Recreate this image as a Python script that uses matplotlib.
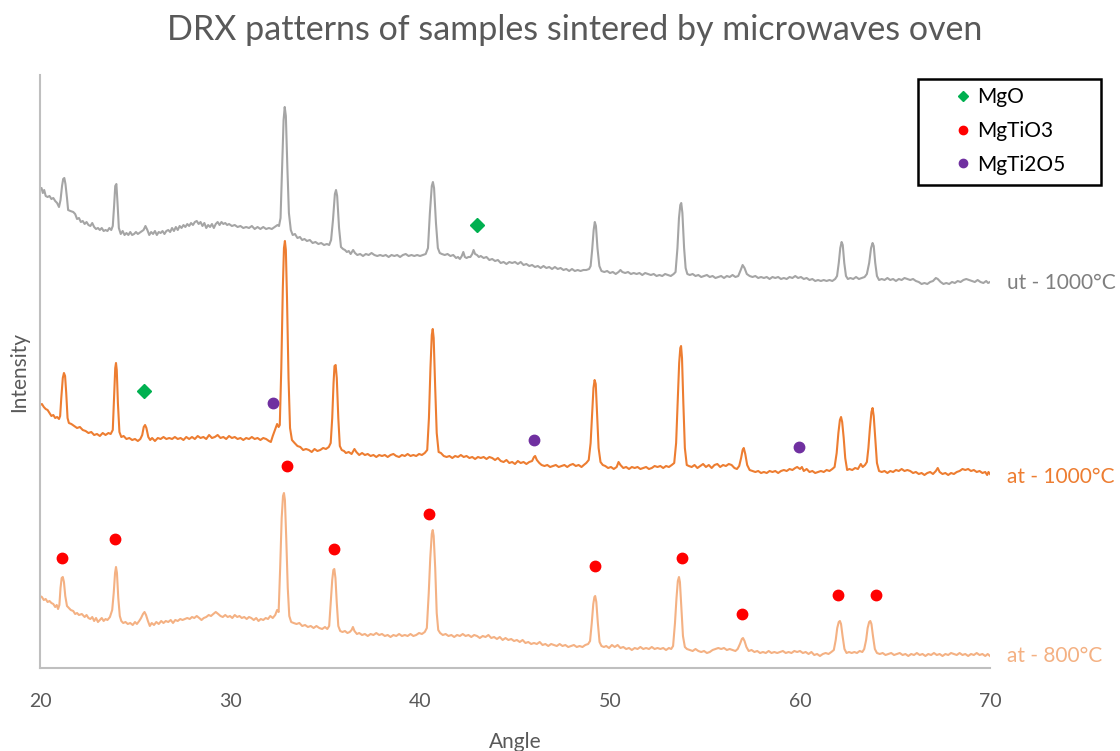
import matplotlib
matplotlib.use("Agg")
import matplotlib.pyplot as plt
from matplotlib.patches import Rectangle

plt.rcParams['font.family'] = ['Lato', 'DejaVu Sans']

# ---- data: (angle in degrees, intensity in offset units) ----
ut1000 = [
    (20.00, 478), (20.08, 480), (20.15, 475), (20.22, 478), (20.30, 472), (20.40, 471), (20.50, 472),
    (20.60, 469), (20.70, 470), (20.80, 467), (20.90, 465), (21.00, 461),
    (21.08, 468), (21.16, 482), (21.22, 489), (21.28, 490), (21.34, 484), (21.42, 470), (21.48, 458),
    (21.60, 457), (21.75, 456), (21.85, 454), (21.95, 449), (22.05, 450), (22.15, 446), (22.25, 447),
    (22.35, 444), (22.45, 446), (22.55, 443), (22.65, 442), (22.75, 445), (22.85, 441), (22.95, 439),
    (23.05, 440), (23.15, 438), (23.25, 440), (23.35, 437), (23.45, 438), (23.55, 437), (23.65, 440),
    (23.75, 438), (23.83, 442),
    (23.90, 462), (23.96, 482), (24.02, 484), (24.08, 465), (24.15, 440), (24.25, 434),
    (24.35, 437), (24.45, 433), (24.55, 435), (24.65, 433), (24.75, 436), (24.85, 433), (24.95, 434),
    (25.05, 436), (25.15, 434), (25.30, 436), (25.45, 438), (25.55, 442), (25.65, 438), (25.75, 433),
    (25.85, 436), (25.95, 434), (26.05, 437), (26.15, 433), (26.25, 436), (26.35, 435), (26.45, 437),
    (26.55, 434), (26.65, 437), (26.75, 438), (26.85, 436), (26.95, 440), (27.05, 437), (27.15, 441),
    (27.25, 438), (27.35, 442), (27.45, 440), (27.55, 443), (27.65, 441), (27.75, 444), (27.85, 442),
    (27.95, 445), (28.05, 443), (28.15, 446), (28.25, 447), (28.35, 444), (28.45, 446), (28.55, 442),
    (28.65, 445), (28.75, 440), (28.85, 443), (28.95, 441), (29.05, 444), (29.15, 440), (29.25, 444),
    (29.35, 446), (29.45, 443), (29.55, 446), (29.65, 444), (29.75, 445), (29.85, 443), (29.95, 444),
    (30.10, 442), (30.25, 443), (30.40, 441), (30.55, 442), (30.70, 440), (30.85, 441), (31.00, 440),
    (31.15, 442), (31.30, 439), (31.45, 441), (31.60, 439), (31.75, 441), (31.90, 439), (32.05, 440),
    (32.20, 439), (32.35, 441), (32.50, 443), (32.58, 442),
    (32.66, 450), (32.74, 500), (32.82, 548), (32.88, 561), (32.94, 552), (33.02, 500), (33.10, 455),
    (33.20, 438), (33.30, 433),
    (33.42, 434), (33.55, 430), (33.68, 431), (33.80, 428), (33.92, 429), (34.05, 427), (34.20, 428),
    (34.35, 425), (34.50, 426), (34.65, 424), (34.80, 425), (34.95, 423), (35.10, 424), (35.22, 423),
    (35.32, 428),
    (35.42, 448), (35.52, 474), (35.58, 478), (35.64, 472), (35.74, 440), (35.84, 421),
    (35.95, 419), (36.05, 418), (36.15, 416), (36.25, 417), (36.35, 414), (36.48, 418), (36.58, 415),
    (36.70, 413), (36.85, 414), (37.00, 412), (37.15, 414), (37.30, 413), (37.45, 415), (37.60, 413),
    (37.75, 412), (37.90, 413), (38.05, 412), (38.20, 413), (38.35, 411), (38.50, 413), (38.65, 412),
    (38.80, 413), (38.95, 411), (39.10, 413), (39.25, 414), (39.40, 412), (39.55, 413), (39.70, 412),
    (39.85, 413), (40.00, 412), (40.15, 413), (40.30, 414),
    (40.42, 420), (40.52, 455), (40.62, 482), (40.68, 486), (40.74, 480), (40.84, 445), (40.94, 420),
    (41.04, 415),
    (41.15, 414), (41.30, 413), (41.45, 414), (41.60, 412), (41.75, 413), (41.90, 410), (42.00, 411),
    (42.10, 409), (42.20, 412), (42.28, 416), (42.36, 411), (42.45, 410), (42.55, 411), (42.65, 411),
    (42.75, 414), (42.82, 418), (42.90, 414), (43.00, 413), (43.10, 411), (43.20, 412), (43.35, 410),
    (43.50, 411), (43.65, 408), (43.80, 409), (43.95, 407), (44.10, 408), (44.25, 405), (44.40, 406),
    (44.55, 404), (44.70, 406), (44.85, 405), (45.00, 406), (45.15, 404), (45.30, 406), (45.45, 403),
    (45.60, 404), (45.75, 402), (45.90, 403), (46.05, 401), (46.20, 402), (46.35, 400), (46.50, 402),
    (46.65, 400), (46.80, 401), (46.95, 399), (47.10, 401), (47.25, 399), (47.40, 400), (47.55, 398),
    (47.70, 399), (47.85, 397), (48.00, 399), (48.15, 397), (48.30, 398), (48.45, 397), (48.60, 398),
    (48.75, 398), (48.90, 399), (48.98, 402),
    (49.06, 418), (49.14, 438), (49.20, 446), (49.26, 442), (49.34, 420), (49.44, 402), (49.55, 397),
    (49.70, 396), (49.85, 397), (50.00, 395), (50.15, 396), (50.30, 394), (50.45, 396), (50.55, 398),
    (50.65, 396), (50.80, 395), (50.95, 396), (51.10, 394), (51.25, 395), (51.40, 394), (51.55, 395),
    (51.70, 393), (51.85, 395), (52.00, 394), (52.15, 393), (52.30, 394), (52.45, 392), (52.60, 393),
    (52.75, 392), (52.90, 394), (53.05, 393), (53.20, 392), (53.35, 394), (53.45, 396),
    (53.55, 420), (53.63, 450), (53.70, 463), (53.75, 465), (53.81, 455), (53.90, 420), (53.98, 400),
    (54.07, 394),
    (54.20, 393), (54.35, 394), (54.50, 392), (54.65, 393), (54.80, 391), (54.95, 392), (55.10, 393),
    (55.25, 391), (55.40, 392), (55.55, 390), (55.70, 391), (55.85, 392), (56.00, 390), (56.15, 392),
    (56.30, 391), (56.45, 393), (56.60, 391), (56.75, 392),
    (56.88, 398), (56.98, 403), (57.08, 400), (57.20, 394), (57.35, 392),
    (57.50, 391), (57.65, 392), (57.80, 390), (57.95, 391), (58.10, 390), (58.25, 391), (58.40, 389),
    (58.55, 391), (58.70, 390), (58.85, 391), (59.00, 389), (59.15, 390), (59.30, 389), (59.45, 391),
    (59.60, 390), (59.75, 392), (59.90, 390), (60.05, 391), (60.20, 389), (60.35, 390), (60.50, 388),
    (60.65, 389), (60.80, 387), (60.95, 388), (61.10, 387), (61.25, 388), (61.40, 387), (61.55, 388),
    (61.70, 387), (61.85, 389), (61.95, 392),
    (62.04, 405), (62.12, 420), (62.19, 426), (62.25, 423), (62.33, 405), (62.42, 392), (62.52, 389),
    (62.65, 390), (62.80, 389), (62.95, 391), (63.10, 389), (63.25, 390), (63.40, 391), (63.52, 394),
    (63.64, 405), (63.74, 420), (63.82, 425), (63.88, 422), (63.96, 405), (64.05, 392), (64.16, 388),
    (64.30, 389), (64.45, 388), (64.60, 390), (64.75, 388), (64.90, 389), (65.05, 387), (65.20, 389),
    (65.35, 388), (65.50, 390), (65.65, 389), (65.80, 388), (65.95, 389), (66.10, 387), (66.25, 386),
    (66.40, 384), (66.55, 385), (66.70, 384), (66.85, 386), (67.00, 387), (67.15, 390), (67.25, 389),
    (67.40, 386), (67.55, 384), (67.70, 385), (67.85, 384), (68.00, 386), (68.15, 385), (68.30, 387),
    (68.45, 386), (68.60, 388), (68.75, 389), (68.90, 388), (69.05, 387), (69.20, 386), (69.35, 388),
    (69.50, 386), (69.65, 385), (69.80, 387), (69.90, 385), (70.00, 386),
]

at1000 = [
    (20.00, 263), (20.10, 264), (20.20, 261), (20.30, 259), (20.40, 258), (20.50, 255), (20.60, 252),
    (20.70, 253), (20.80, 250), (20.90, 251), (21.00, 249), (21.06, 252),
    (21.12, 270), (21.20, 290), (21.26, 295), (21.32, 292), (21.38, 275), (21.45, 250), (21.52, 245),
    (21.65, 244), (21.80, 242), (21.95, 240), (22.10, 241), (22.25, 238), (22.40, 237), (22.55, 235),
    (22.70, 236), (22.85, 233), (23.00, 234), (23.15, 232), (23.30, 235), (23.45, 233), (23.60, 235),
    (23.72, 234), (23.83, 238),
    (23.90, 270), (23.96, 300), (24.00, 305), (24.04, 298), (24.10, 265), (24.18, 236), (24.28, 231),
    (24.40, 232), (24.55, 229), (24.70, 230), (24.85, 228), (25.00, 229), (25.15, 227), (25.28, 229),
    (25.38, 233), (25.46, 241), (25.53, 243), (25.60, 240), (25.70, 231), (25.80, 228),
    (25.90, 230), (26.05, 227), (26.20, 230), (26.35, 229), (26.50, 231), (26.65, 229), (26.80, 230),
    (26.95, 229), (27.10, 231), (27.25, 229), (27.40, 230), (27.55, 228), (27.70, 231), (27.85, 229),
    (28.00, 231), (28.15, 229), (28.30, 232), (28.45, 230), (28.60, 231), (28.75, 229), (28.90, 233),
    (29.05, 230), (29.20, 231), (29.35, 233), (29.50, 230), (29.65, 231), (29.80, 229), (29.95, 232),
    (30.10, 230), (30.25, 231), (30.40, 229), (30.55, 230), (30.70, 228), (30.85, 230), (31.00, 229),
    (31.15, 231), (31.30, 229), (31.45, 230), (31.60, 228), (31.75, 230), (31.90, 229), (32.05, 227),
    (32.15, 226), (32.25, 232), (32.40, 240), (32.48, 244), (32.56, 241), (32.62, 243),
    (32.70, 300), (32.78, 380), (32.84, 420), (32.89, 427), (32.94, 418), (33.00, 370), (33.08, 290),
    (33.16, 240), (33.26, 228),
    (33.40, 225), (33.55, 222), (33.70, 221), (33.85, 218), (34.00, 219), (34.15, 218), (34.30, 216),
    (34.45, 219), (34.60, 217), (34.75, 218), (34.90, 220), (35.05, 219), (35.20, 221), (35.30, 225),
    (35.38, 250), (35.45, 285), (35.50, 302), (35.56, 303), (35.62, 290), (35.70, 250), (35.78, 222),
    (35.88, 218),
    (36.00, 217), (36.10, 215), (36.25, 216), (36.40, 214), (36.55, 219), (36.65, 216), (36.80, 213),
    (36.95, 215), (37.10, 213), (37.25, 214), (37.40, 212), (37.55, 213), (37.70, 211), (37.85, 213),
    (38.00, 212), (38.15, 213), (38.30, 211), (38.45, 213), (38.60, 214), (38.75, 212), (38.90, 211),
    (39.05, 213), (39.20, 212), (39.35, 214), (39.50, 212), (39.65, 213), (39.80, 212), (39.95, 214),
    (40.10, 213), (40.25, 215), (40.38, 218),
    (40.47, 250), (40.55, 300), (40.62, 333), (40.67, 339), (40.72, 330), (40.80, 280), (40.88, 235),
    (40.98, 216),
    (41.10, 215), (41.25, 212), (41.40, 211), (41.55, 212), (41.70, 210), (41.85, 212), (42.00, 211),
    (42.15, 213), (42.30, 211), (42.45, 212), (42.60, 210), (42.75, 211), (42.90, 209), (43.05, 211),
    (43.20, 210), (43.35, 211), (43.50, 209), (43.65, 211), (43.80, 210), (43.95, 208), (44.10, 210),
    (44.25, 207), (44.40, 206), (44.55, 208), (44.70, 205), (44.85, 206), (45.00, 204), (45.15, 207),
    (45.30, 205), (45.45, 206), (45.60, 204), (45.75, 206), (45.90, 207),
    (46.00, 211), (46.06, 212), (46.15, 208), (46.28, 205), (46.40, 203),
    (46.55, 202), (46.70, 203), (46.85, 201), (47.00, 202), (47.15, 203), (47.30, 201), (47.45, 202),
    (47.60, 203), (47.75, 201), (47.90, 203), (48.05, 204), (48.20, 202), (48.35, 203), (48.50, 201),
    (48.62, 203), (48.75, 205), (48.88, 208),
    (48.98, 225), (49.06, 255), (49.13, 280), (49.19, 288), (49.25, 284), (49.32, 255), (49.40, 220),
    (49.50, 206),
    (49.62, 203), (49.75, 202), (49.90, 200), (50.05, 201), (50.20, 199), (50.35, 201), (50.45, 206),
    (50.55, 203), (50.70, 200), (50.85, 201), (51.00, 199), (51.15, 201), (51.30, 200), (51.45, 201),
    (51.60, 199), (51.75, 200), (51.90, 201), (52.05, 199), (52.20, 200), (52.35, 202), (52.50, 201),
    (52.65, 202), (52.80, 200), (52.95, 202), (53.10, 201), (53.25, 203), (53.38, 205),
    (53.48, 225), (53.56, 265), (53.64, 305), (53.70, 320), (53.74, 322), (53.79, 310), (53.86, 265),
    (53.94, 220), (54.04, 203),
    (54.15, 202), (54.30, 201), (54.45, 203), (54.60, 200), (54.75, 202), (54.90, 204), (55.05, 201),
    (55.20, 203), (55.35, 200), (55.50, 203), (55.65, 204), (55.80, 201), (55.95, 203), (56.10, 202),
    (56.25, 204), (56.40, 203), (56.55, 200), (56.68, 199), (56.80, 202),
    (56.90, 210), (56.98, 218), (57.04, 220), (57.12, 214), (57.22, 203), (57.35, 198),
    (57.50, 197), (57.65, 196), (57.80, 197), (57.95, 195), (58.10, 196), (58.25, 195), (58.40, 197),
    (58.55, 196), (58.70, 197), (58.85, 195), (59.00, 197), (59.15, 198), (59.30, 197), (59.45, 199),
    (59.60, 198), (59.75, 200), (59.85, 201), (60.00, 199), (60.10, 201), (60.20, 197), (60.35, 199),
    (60.50, 196), (60.65, 197), (60.80, 195), (60.95, 196), (61.10, 197), (61.25, 196), (61.40, 198),
    (61.55, 197), (61.70, 199), (61.82, 201),
    (61.93, 215), (62.02, 235), (62.10, 248), (62.16, 251), (62.22, 246), (62.30, 230), (62.38, 210),
    (62.48, 198),
    (62.60, 199), (62.75, 198), (62.90, 200), (63.05, 199), (63.20, 204), (63.30, 201), (63.42, 203),
    (63.52, 206),
    (63.60, 220), (63.68, 240), (63.76, 256), (63.82, 260), (63.88, 252), (63.96, 230), (64.05, 205),
    (64.16, 197),
    (64.30, 196), (64.45, 197), (64.60, 195), (64.75, 197), (64.90, 196), (65.05, 198), (65.20, 197),
    (65.35, 199), (65.50, 197), (65.65, 198), (65.80, 197), (65.95, 195), (66.10, 196), (66.25, 194),
    (66.40, 195), (66.55, 193), (66.70, 195), (66.85, 196), (67.00, 194), (67.15, 197), (67.25, 200),
    (67.35, 196), (67.50, 194), (67.65, 195), (67.80, 193), (67.95, 195), (68.10, 194), (68.25, 196),
    (68.40, 197), (68.55, 199), (68.70, 198), (68.85, 199), (69.00, 197), (69.15, 198), (69.30, 196),
    (69.45, 197), (69.60, 195), (69.75, 196), (69.85, 193), (69.92, 196), (70.00, 194),
]

at800 = [
    (20.00, 72), (20.10, 71), (20.20, 68), (20.30, 69), (20.40, 66), (20.50, 67), (20.60, 65),
    (20.70, 64), (20.80, 61), (20.88, 63), (20.95, 59), (21.02, 63),
    (21.08, 80), (21.14, 90), (21.20, 91), (21.26, 86), (21.33, 72), (21.42, 62),
    (21.52, 60), (21.62, 58), (21.75, 57), (21.85, 54), (21.95, 55), (22.05, 53), (22.20, 54),
    (22.35, 51), (22.45, 53), (22.55, 50), (22.65, 49), (22.75, 51), (22.85, 47), (22.95, 50),
    (23.05, 46), (23.15, 48), (23.25, 50), (23.35, 47), (23.45, 49), (23.55, 48), (23.68, 51),
    (23.80, 58),
    (23.88, 75), (23.95, 95), (24.00, 101), (24.05, 95), (24.12, 70), (24.20, 52), (24.28, 47),
    (24.38, 45), (24.50, 46), (24.62, 44), (24.75, 45), (24.88, 43), (25.00, 46), (25.10, 44),
    (25.22, 47), (25.32, 50),
    (25.42, 54), (25.50, 56), (25.58, 53), (25.68, 47), (25.78, 42),
    (25.88, 45), (26.00, 43), (26.12, 46), (26.25, 44), (26.38, 47), (26.50, 45), (26.62, 47),
    (26.75, 46), (26.88, 48), (27.00, 45), (27.12, 48), (27.25, 47), (27.38, 49), (27.50, 48),
    (27.62, 49), (27.75, 50), (27.88, 49), (28.00, 51), (28.12, 50), (28.25, 52), (28.38, 50),
    (28.50, 48), (28.62, 50), (28.75, 51), (28.88, 53), (29.00, 52), (29.12, 54), (29.25, 56),
    (29.38, 54), (29.50, 52), (29.62, 51), (29.75, 53), (29.88, 51), (30.00, 52), (30.12, 50),
    (30.25, 53), (30.38, 51), (30.50, 52), (30.62, 50), (30.75, 51), (30.88, 49), (31.00, 51),
    (31.12, 50), (31.25, 48), (31.38, 50), (31.50, 47), (31.62, 49), (31.75, 48), (31.88, 50),
    (32.00, 49), (32.12, 52), (32.25, 50), (32.38, 53), (32.48, 58), (32.56, 56),
    (32.64, 100), (32.72, 150), (32.79, 172), (32.84, 175), (32.89, 168), (32.96, 130), (33.04, 80),
    (33.12, 52), (33.22, 46),
    (33.35, 45), (33.50, 44), (33.65, 45), (33.80, 42), (33.95, 43), (34.10, 41), (34.25, 42),
    (34.40, 40), (34.55, 42), (34.70, 40), (34.85, 39), (35.00, 41), (35.12, 39), (35.22, 42),
    (35.30, 65), (35.38, 88), (35.44, 98), (35.49, 99), (35.55, 90), (35.62, 65), (35.70, 42),
    (35.80, 37),
    (35.92, 36), (36.05, 37), (36.18, 35), (36.30, 36), (36.40, 38), (36.47, 41), (36.55, 37),
    (36.68, 34), (36.80, 35), (36.95, 33), (37.10, 34), (37.25, 32), (37.40, 34), (37.55, 33),
    (37.70, 35), (37.85, 33), (38.00, 34), (38.15, 32), (38.30, 33), (38.45, 31), (38.60, 33),
    (38.75, 32), (38.90, 34), (39.05, 32), (39.20, 33), (39.35, 32), (39.50, 34), (39.65, 32),
    (39.80, 33), (39.95, 35), (40.10, 34), (40.25, 36), (40.36, 40),
    (40.46, 75), (40.54, 110), (40.62, 134), (40.67, 138), (40.72, 132), (40.80, 100), (40.88, 55),
    (40.96, 38), (41.06, 35),
    (41.20, 33), (41.35, 34), (41.50, 32), (41.65, 33), (41.80, 31), (41.95, 33), (42.10, 32),
    (42.25, 34), (42.40, 32), (42.55, 33), (42.70, 31), (42.85, 33), (43.00, 32), (43.15, 30),
    (43.30, 32), (43.45, 31), (43.60, 33), (43.75, 30), (43.90, 31), (44.05, 29), (44.20, 31),
    (44.35, 28), (44.50, 30), (44.65, 28), (44.80, 29), (44.95, 27), (45.10, 28), (45.25, 26),
    (45.40, 28), (45.55, 25), (45.70, 26), (45.85, 24), (46.00, 25), (46.15, 24), (46.30, 26),
    (46.45, 23), (46.60, 24), (46.75, 22), (46.90, 24), (47.05, 23), (47.20, 22), (47.35, 24),
    (47.50, 22), (47.65, 23), (47.80, 21), (47.95, 22), (48.10, 23), (48.25, 21), (48.40, 22),
    (48.55, 21), (48.70, 23), (48.85, 24), (48.95, 27),
    (49.04, 45), (49.12, 64), (49.18, 71), (49.22, 72), (49.28, 66), (49.36, 45), (49.45, 26),
    (49.55, 22),
    (49.68, 21), (49.80, 22), (49.95, 20), (50.10, 23), (50.25, 21), (50.40, 23), (50.55, 20),
    (50.70, 21), (50.85, 19), (51.00, 20), (51.15, 18), (51.30, 20), (51.45, 19), (51.60, 21),
    (51.75, 19), (51.90, 20), (52.05, 19), (52.20, 21), (52.35, 19), (52.50, 20), (52.65, 19),
    (52.80, 20), (52.95, 18), (53.10, 20), (53.22, 19), (53.32, 22),
    (53.42, 45), (53.50, 70), (53.57, 87), (53.63, 91), (53.68, 86), (53.75, 62), (53.84, 32),
    (53.94, 21), (54.05, 19),
    (54.20, 18), (54.35, 17), (54.50, 19), (54.65, 17), (54.80, 16), (54.95, 17), (55.10, 15),
    (55.25, 16), (55.40, 18), (55.55, 19), (55.70, 20), (55.85, 19), (56.00, 20), (56.15, 18),
    (56.30, 19), (56.45, 18), (56.60, 17), (56.72, 19),
    (56.84, 24), (56.94, 29), (57.00, 30), (57.08, 27), (57.18, 21), (57.30, 17),
    (57.45, 18), (57.60, 16), (57.75, 17), (57.90, 15), (58.05, 16), (58.20, 15), (58.35, 17),
    (58.50, 15), (58.65, 16), (58.80, 15), (58.95, 16), (59.10, 17), (59.25, 15), (59.40, 16),
    (59.55, 15), (59.70, 17), (59.85, 16), (60.00, 17), (60.15, 15), (60.30, 16), (60.45, 14),
    (60.60, 16), (60.75, 13), (60.90, 14), (61.05, 12), (61.20, 14), (61.35, 15), (61.50, 14),
    (61.65, 16), (61.78, 18),
    (61.88, 28), (61.96, 40), (62.04, 46), (62.10, 47), (62.16, 44), (62.24, 32), (62.34, 19),
    (62.45, 15),
    (62.58, 16), (62.72, 15), (62.86, 16), (63.00, 15), (63.14, 17), (63.28, 16), (63.38, 19),
    (63.48, 28), (63.56, 40), (63.64, 46), (63.70, 47), (63.76, 44), (63.84, 32), (63.94, 19),
    (64.05, 15),
    (64.20, 14), (64.35, 15), (64.50, 13), (64.65, 14), (64.80, 15), (64.95, 13), (65.10, 14),
    (65.25, 15), (65.40, 13), (65.55, 14), (65.70, 12), (65.85, 14), (66.00, 13), (66.15, 15),
    (66.30, 13), (66.45, 14), (66.60, 12), (66.75, 14), (66.90, 13), (67.05, 15), (67.20, 13),
    (67.35, 14), (67.50, 12), (67.65, 14), (67.80, 13), (67.95, 15), (68.10, 14), (68.25, 13),
    (68.40, 15), (68.55, 13), (68.70, 14), (68.85, 12), (69.00, 14), (69.15, 13), (69.30, 15),
    (69.45, 13), (69.60, 14), (69.75, 12), (69.88, 14), (70.00, 12),
]

# phase markers
mgo_x = [43.0, 25.47]
mgo_y = [443, 277]
mgtio3_x = [21.16, 23.95, 33.0, 35.47, 40.47, 49.2, 53.8, 56.95, 62.0, 64.0]
mgtio3_y = [110, 129, 202, 119, 154, 102, 110, 54, 73, 73]
mgti2o5_x = [32.26, 46.0, 59.95]
mgti2o5_y = [265, 228, 221]

series = [ut1000, at1000, at800]
series_labels = ['ut - 1000°C', 'at - 1000°C', 'at - 800°C']
series_colors = ['#A5A5A5', '#ED7D31', '#F4B183']
label_colors = ['#7F7F7F', '#ED7D31', '#F4B183']
label_y = [385, 191, 12]

# ---- figure ----
fig = plt.figure(figsize=(11.2, 7.51), dpi=100)
ax = fig.add_axes([40/1120, 83/751, 950/1120, 593/751])

for pts, c in zip(series, series_colors):
    xs = [p[0] for p in pts]
    ys = [p[1] for p in pts]
    ax.plot(xs, ys, color=c, lw=1.5, solid_joinstyle='round')

ax.plot(mgo_x, mgo_y, 'D', color='#00B050', ms=7, ls='none', label='MgO')
ax.plot(mgtio3_x, mgtio3_y, 'o', color='#FF0000', ms=7.5, ls='none', label='MgTiO3')
ax.plot(mgti2o5_x, mgti2o5_y, 'o', color='#7030A0', ms=7.5, ls='none', label='MgTi2O5')

for lab, c, yy in zip(series_labels, label_colors, label_y):
    ax.text(70.9, yy, lab, color=c, fontsize=15, va='center', ha='left', clip_on=False)

ax.set_xlim(20, 70)
ax.set_ylim(0, 593)
ax.set_xticks([20, 30, 40, 50, 60, 70])
ax.set_yticks([])
ax.tick_params(axis='x', length=0, pad=18, labelsize=14, labelcolor='#595959')
for s in ['top', 'right']:
    ax.spines[s].set_visible(False)
for s in ['left', 'bottom']:
    ax.spines[s].set_color('#BFBFBF')
    ax.spines[s].set_linewidth(1.5)

ax.set_xlabel('Angle', fontsize=15, color='#595959', labelpad=16)
ax.set_ylabel('Intensity', fontsize=15, color='#595959', labelpad=8)
fig.text(575/1120, 1 - 30/751, 'DRX patterns of samples sintered by microwaves oven',
         fontsize=24.5, color='#595959', ha='center', va='center')

# legend box drawn separately, entries placed inside it
ax.add_patch(Rectangle((0.924, 0.8145), 0.193, 0.1785, transform=ax.transAxes, fill=False,
                       edgecolor='black', lw=1.8, clip_on=False, zorder=5))
leg = ax.legend(loc='upper left', bbox_to_anchor=(0.9606, 0.979), frameon=False,
                fontsize=15, labelspacing=0.65, handletextpad=0.17, borderpad=0,
                handlelength=1.0, markerscale=0.8, borderaxespad=0)

fig.savefig('out.png', dpi=100)
